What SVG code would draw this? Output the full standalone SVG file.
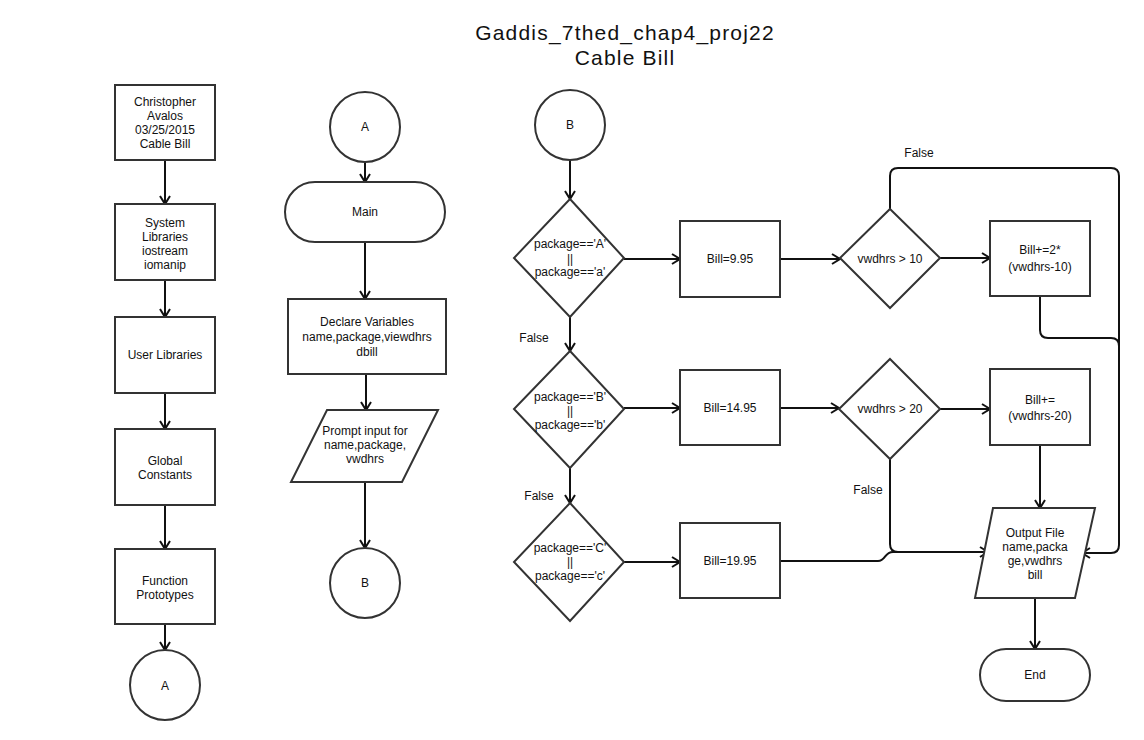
<svg xmlns="http://www.w3.org/2000/svg" width="1144" height="740" viewBox="0 0 1144 740">
<style>
.s{fill:#fff;stroke:#333;stroke-width:2}
.t{font-family:"Liberation Sans",Arial,sans-serif;font-size:12px;fill:#111;text-anchor:middle}
.ti{font-family:"Liberation Sans",Arial,sans-serif;font-size:21px;letter-spacing:1.2px;fill:#111;text-anchor:middle}
.c{fill:none;stroke:#111;stroke-width:2}
</style>
<defs>
<marker id="ah" markerUnits="userSpaceOnUse" markerWidth="12" markerHeight="12" refX="9" refY="6" orient="auto">
<path d="M1,1 L9,6 L1,11" fill="none" stroke="#111" stroke-width="2"/>
</marker>
</defs>
<rect width="1144" height="740" fill="#fff"/>
<g id="title">
<text class="ti" x="625" y="40">Gaddis_7thed_chap4_proj22</text>
<text class="ti" x="625" y="65">Cable Bill</text>
</g>
<g id="connectors">
<path class="c" marker-end="url(#ah)" d="M165,160 V204"/>
<path class="c" marker-end="url(#ah)" d="M165,280 V317"/>
<path class="c" marker-end="url(#ah)" d="M165,393 V429"/>
<path class="c" marker-end="url(#ah)" d="M165,505 V549"/>
<path class="c" marker-end="url(#ah)" d="M165,624 V650"/>
<path class="c" marker-end="url(#ah)" d="M365,162 V182"/>
<path class="c" marker-end="url(#ah)" d="M365,242 V299"/>
<path class="c" marker-end="url(#ah)" d="M366,374 V410"/>
<path class="c" marker-end="url(#ah)" d="M365,482 V548"/>
<path class="c" marker-end="url(#ah)" d="M570,160 V199"/>
<path class="c" marker-end="url(#ah)" d="M570,317 V351"/>
<path class="c" marker-end="url(#ah)" d="M570,468 V503"/>
<path class="c" marker-end="url(#ah)" d="M624,259 H680"/>
<path class="c" marker-end="url(#ah)" d="M624,408 H680"/>
<path class="c" marker-end="url(#ah)" d="M624,562 H680"/>
<path class="c" marker-end="url(#ah)" d="M780,259 H840"/>
<path class="c" marker-end="url(#ah)" d="M780,408 H839"/>
<path class="c" marker-end="url(#ah)" d="M940,258 H990"/>
<path class="c" marker-end="url(#ah)" d="M940,409 H990"/>
<path class="c" marker-end="url(#ah)" d="M890,209 V176 Q890,168 898,168 H1111 Q1119,168 1119,176 V545 Q1119,553 1111,553 H1082"/>
<path class="c" d="M1040,296 V330 Q1040,338 1048,338 H1111 Q1119,338 1119,346"/>
<path class="c" marker-end="url(#ah)" d="M890,459 V544 Q890,552 898,552 H988"/>
<path class="c" d="M780,561 H878 C886,561 884,552 893,552 H900"/>
<path class="c" marker-end="url(#ah)" d="M1040,445 V508"/>
<path class="c" marker-end="url(#ah)" d="M1035,598 V649"/>
</g>
<g id="n1"><rect class="s" x="115" y="85" width="100" height="75"/>
<text class="t" x="165" y="106">Christopher</text><text class="t" x="165" y="120">Avalos</text><text class="t" x="165" y="134">03/25/2015</text><text class="t" x="165" y="148">Cable Bill</text></g>
<g id="n2"><rect class="s" x="115" y="204" width="100" height="76"/>
<text class="t" x="165" y="227">System</text><text class="t" x="165" y="241">Libraries</text><text class="t" x="165" y="255">iostream</text><text class="t" x="165" y="269">iomanip</text></g>
<g id="n3"><rect class="s" x="115" y="317" width="100" height="76"/>
<text class="t" x="165" y="359">User Libraries</text></g>
<g id="n4"><rect class="s" x="115" y="429" width="100" height="76"/>
<text class="t" x="165" y="465">Global</text><text class="t" x="165" y="479">Constants</text></g>
<g id="n5"><rect class="s" x="115" y="549" width="100" height="75"/>
<text class="t" x="165" y="585">Function</text><text class="t" x="165" y="599">Prototypes</text></g>
<g id="n6"><circle class="s" cx="165" cy="685" r="35"/><text class="t" x="165" y="690">A</text></g>
<g id="m1"><circle class="s" cx="365" cy="127" r="35"/><text class="t" x="365" y="131">A</text></g>
<g id="m2"><rect class="s" x="285" y="182" width="160" height="60" rx="30"/><text class="t" x="365" y="216">Main</text></g>
<g id="m3"><rect class="s" x="288" y="299" width="158" height="75"/>
<text class="t" x="367" y="326">Declare Variables</text><text class="t" x="367" y="341">name,package,viewdhrs</text><text class="t" x="367" y="356">dbill</text></g>
<g id="m4"><polygon class="s" points="327,410 438,410 402,482 291,482"/>
<text class="t" x="365" y="435">Prompt input for</text><text class="t" x="365" y="449">name,package,</text><text class="t" x="365" y="463">vwdhrs</text></g>
<g id="m5"><circle class="s" cx="365" cy="583" r="35"/><text class="t" x="365" y="587">B</text></g>
<g id="r1"><circle class="s" cx="570" cy="125" r="35"/><text class="t" x="570" y="129">B</text></g>
<g id="d1"><polygon class="s" points="570,199 624,258 570,317 514,258"/>
<text class="t" x="570" y="248">package=='A'</text><text class="t" x="570" y="263">||</text><text class="t" x="570" y="276">package=='a'</text></g>
<g id="d2"><polygon class="s" points="570,351 624,409 570,468 514,409"/>
<text class="t" x="570" y="401">package=='B'</text><text class="t" x="570" y="415">||</text><text class="t" x="570" y="429">package=='b'</text></g>
<g id="d3"><polygon class="s" points="570,503 624,562 570,621 514,562"/>
<text class="t" x="570" y="552">package=='C'</text><text class="t" x="570" y="566">||</text><text class="t" x="570" y="580">package=='c'</text></g>
<g id="b1"><rect class="s" x="680" y="221" width="100" height="76"/><text class="t" x="730" y="263">Bill=9.95</text></g>
<g id="b2"><rect class="s" x="680" y="370" width="100" height="75"/><text class="t" x="730" y="412">Bill=14.95</text></g>
<g id="b3"><rect class="s" x="680" y="523" width="100" height="75"/><text class="t" x="730" y="565">Bill=19.95</text></g>
<g id="d4"><polygon class="s" points="890,209 940,258 890,308 840,258"/><text class="t" x="890" y="263">vwdhrs &gt; 10</text></g>
<g id="d5"><polygon class="s" points="890,359 940,409 890,459 839,409"/><text class="t" x="890" y="413">vwdhrs &gt; 20</text></g>
<g id="b4"><rect class="s" x="990" y="221" width="100" height="75"/>
<text class="t" x="1040" y="254">Bill+=2*</text><text class="t" x="1040" y="271">(vwdhrs-10)</text></g>
<g id="b5"><rect class="s" x="990" y="369" width="100" height="76"/>
<text class="t" x="1040" y="404">Bill+=</text><text class="t" x="1040" y="420">(vwdhrs-20)</text></g>
<g id="out"><polygon class="s" points="993,508 1095,508 1075,598 975,598"/>
<text class="t" x="1035" y="537">Output File</text><text class="t" x="1035" y="551">name,packa</text><text class="t" x="1035" y="565">ge,vwdhrs</text><text class="t" x="1035" y="579">bill</text></g>
<g id="end"><rect class="s" x="980" y="649" width="110" height="52" rx="26"/><text class="t" x="1035" y="679">End</text></g>
<g id="labels">
<text class="t" x="919" y="157">False</text>
<text class="t" x="534" y="342">False</text>
<text class="t" x="539" y="500">False</text>
<text class="t" x="868" y="494">False</text>
</g>
</svg>
